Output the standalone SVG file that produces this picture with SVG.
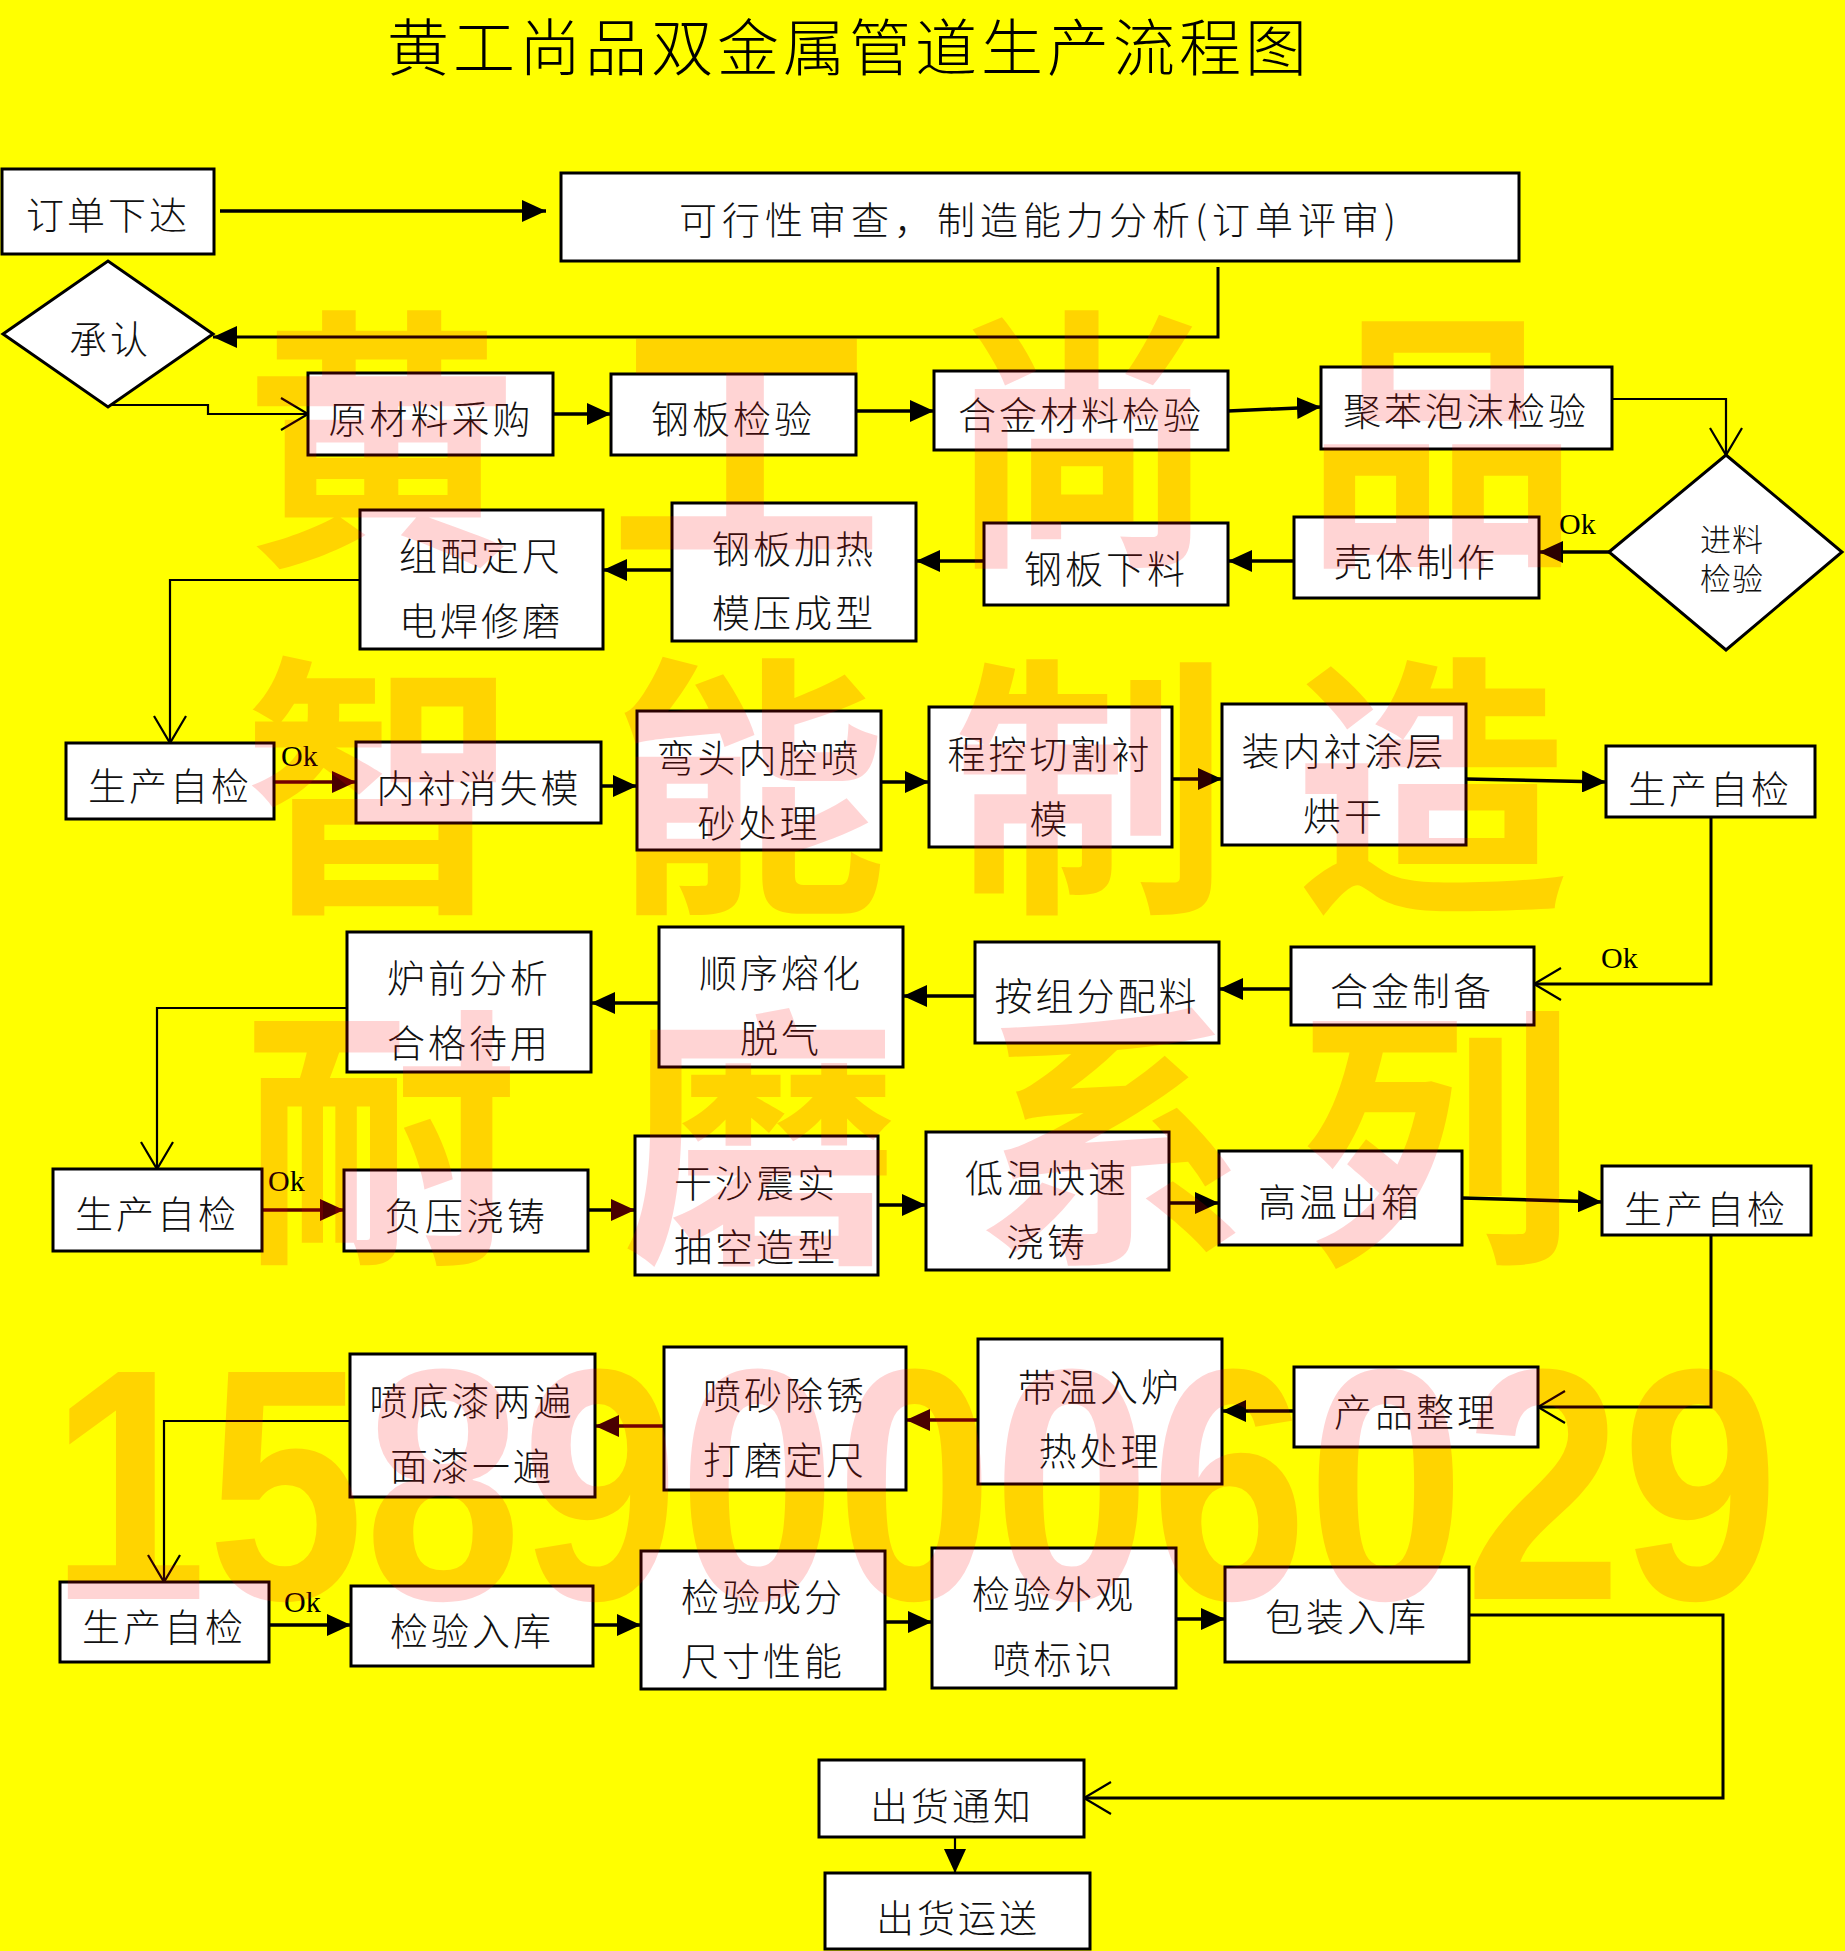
<svg xmlns="http://www.w3.org/2000/svg" width="1845" height="1951" viewBox="0 0 1845 1951">
<style>
.box{fill:#fff;stroke:#000;stroke-width:3}
.t{font-family:"Noto Sans CJK SC","Noto Sans CJK JP",sans-serif;font-weight:300;font-size:38px;letter-spacing:3px;text-anchor:middle;dominant-baseline:central;fill:#111}
.ok{font-family:"Liberation Serif",serif;font-size:30px;fill:#000}
.ln{fill:none;stroke:#000;stroke-width:3.5}
.lr{fill:none;stroke:#5a0000;stroke-width:3.5}
.el{fill:none;stroke:#000;stroke-width:2.2}
.wm{font-family:"Noto Sans CJK SC",sans-serif;font-weight:bold;font-size:275px;text-anchor:middle;dominant-baseline:central;fill:#ff0000;fill-opacity:0.17}
</style>
<defs>
<marker id="tri" markerWidth="24" markerHeight="22" refX="24" refY="11" orient="auto" markerUnits="userSpaceOnUse"><path d="M0,0 L24,11 L0,22 Z" fill="#000"/></marker>
<marker id="triR" markerWidth="24" markerHeight="22" refX="24" refY="11" orient="auto" markerUnits="userSpaceOnUse"><path d="M0,0 L24,11 L0,22 Z" fill="#4a0000"/></marker>
<marker id="vee" markerWidth="32" markerHeight="36" refX="29" refY="18" orient="auto" markerUnits="userSpaceOnUse"><path d="M2,2 L29,18 L2,34" fill="none" stroke="#000" stroke-width="2.2"/></marker>
</defs>
<rect x="0" y="0" width="1845" height="1951" fill="#ffff00"/>
<text x="849" y="44" style="font-family:'Noto Sans CJK SC',sans-serif;font-weight:300;font-size:62px;letter-spacing:4px;text-anchor:middle;dominant-baseline:central;fill:#000">黄工尚品双金属管道生产流程图</text>

<g id="connectors">
<path class="ln" d="M220,211 H546" marker-end="url(#tri)"/>
<path class="ln" d="M1218,267 V337 H213" marker-end="url(#tri)" style="stroke-width:3"/>
<path class="el" d="M108,405 H208 V414 H308" marker-end="url(#vee)"/>
<path class="ln" d="M553,414 H611" marker-end="url(#tri)"/>
<path class="ln" d="M856,411 H934" marker-end="url(#tri)"/>
<path class="ln" d="M1228,411 L1321,407" marker-end="url(#tri)"/>
<path class="el" d="M1612,399 H1726 V455" marker-end="url(#vee)"/>
<path class="ln" d="M1609,552 H1539" marker-end="url(#tri)"/>
<path class="ln" d="M1294,561 H1228" marker-end="url(#tri)"/>
<path class="ln" d="M984,561 H916" marker-end="url(#tri)"/>
<path class="ln" d="M672,570 H603" marker-end="url(#tri)"/>
<path class="el" d="M360,580 H170 V743" marker-end="url(#vee)"/>
<path class="lr" d="M274,782 H356" marker-end="url(#triR)"/>
<path class="ln" d="M601,786 H637" marker-end="url(#tri)"/>
<path class="ln" d="M881,782 H929" marker-end="url(#tri)"/>
<path class="ln" d="M1172,779 H1222" marker-end="url(#tri)"/>
<path class="ln" d="M1466,779 L1606,782" marker-end="url(#tri)"/>
<path class="el" d="M1711,817 V984 H1534" marker-end="url(#vee)" style="stroke-width:3"/>
<path class="ln" d="M1291,989 H1219" marker-end="url(#tri)"/>
<path class="ln" d="M975,996 H903" marker-end="url(#tri)"/>
<path class="ln" d="M659,1003 H591" marker-end="url(#tri)"/>
<path class="el" d="M347,1008 H157 V1169" marker-end="url(#vee)"/>
<path class="lr" d="M262,1210 H344" marker-end="url(#triR)"/>
<path class="ln" d="M588,1210 H635" marker-end="url(#triR)"/>
<path class="ln" d="M878,1205 H926" marker-end="url(#tri)"/>
<path class="ln" d="M1169,1203 H1219" marker-end="url(#tri)"/>
<path class="ln" d="M1462,1198 L1602,1202" marker-end="url(#tri)"/>
<path class="el" d="M1711,1235 V1407 H1538" marker-end="url(#vee)" style="stroke-width:3"/>
<path class="ln" d="M1294,1411 H1222" marker-end="url(#tri)"/>
<path class="lr" d="M978,1420 H906" marker-end="url(#triR)"/>
<path class="lr" d="M664,1426 H595" marker-end="url(#triR)"/>
<path class="el" d="M350,1421 H164 V1582" marker-end="url(#vee)"/>
<path class="ln" d="M269,1625 H351" marker-end="url(#tri)"/>
<path class="ln" d="M593,1625 H641" marker-end="url(#tri)"/>
<path class="ln" d="M885,1622 H932" marker-end="url(#tri)"/>
<path class="ln" d="M1176,1619 H1225" marker-end="url(#tri)"/>
<path class="el" d="M1469,1615 H1723 V1798 H1084" marker-end="url(#vee)" style="stroke-width:3"/>
<path class="el" d="M955,1837 V1873" marker-end="url(#tri)"/>
<text class="ok" x="1559" y="534">Ok</text>
<text class="ok" x="281" y="766">Ok</text>
<text class="ok" x="1601" y="968">Ok</text>
<text class="ok" x="268" y="1191">Ok</text>
<text class="ok" x="284" y="1612">Ok</text>
</g>

<g id="n-order"><rect class="box" x="2" y="169" width="212" height="85"/><text class="t" x="108" y="212">订单下达</text></g>
<g id="n-review"><rect class="box" x="561" y="173" width="958" height="88"/><text class="t" x="1040" y="217" style="letter-spacing:5px">可行性审查，制造能力分析(订单评审)</text></g>
<g id="n-approve"><polygon class="box" points="3,334 108,261 213,334 108,407"/><text class="t" x="110" y="336">承认</text></g>
<g id="n-raw"><rect class="box" x="308" y="373" width="245" height="82"/><text class="t" x="431" y="416">原材料采购</text></g>
<g id="n-steelcheck"><rect class="box" x="611" y="374" width="245" height="81"/><text class="t" x="733" y="416">钢板检验</text></g>
<g id="n-alloycheck"><rect class="box" x="934" y="371" width="294" height="79"/><text class="t" x="1081" y="412">合金材料检验</text></g>
<g id="n-foamcheck"><rect class="box" x="1321" y="367" width="291" height="82"/><text class="t" x="1466" y="408">聚苯泡沫检验</text></g>
<g id="n-incoming"><polygon class="box" points="1609,552 1726,455 1842,552 1726,650"/><text class="t" x="1732" y="537" style="font-size:31px;letter-spacing:1px">进料</text><text class="t" x="1732" y="576" style="font-size:31px;letter-spacing:1px">检验</text></g>
<g id="n-shell"><rect class="box" x="1294" y="517" width="245" height="81"/><text class="t" x="1416" y="559">壳体制作</text></g>
<g id="n-cut"><rect class="box" x="984" y="523" width="244" height="82"/><text class="t" x="1106" y="566">钢板下料</text></g>
<g id="n-press"><rect class="box" x="672" y="503" width="244" height="138"/><text class="t" x="794" y="546">钢板加热</text><text class="t" x="794" y="610">模压成型</text></g>
<g id="n-weld"><rect class="box" x="360" y="510" width="243" height="139"/><text class="t" x="481" y="553">组配定尺</text><text class="t" x="481" y="618">电焊修磨</text></g>
<g id="n-self1"><rect class="box" x="66" y="743" width="208" height="76"/><text class="t" x="170" y="783">生产自检</text></g>
<g id="n-lining"><rect class="box" x="356" y="742" width="245" height="81"/><text class="t" x="479" y="785">内衬消失模</text></g>
<g id="n-elbow"><rect class="box" x="637" y="711" width="244" height="139"/><text class="t" x="759" y="755">弯头内腔喷</text><text class="t" x="759" y="820">砂处理</text></g>
<g id="n-cnc"><rect class="box" x="929" y="707" width="243" height="140"/><text class="t" x="1050" y="751">程控切割衬</text><text class="t" x="1050" y="816">模</text></g>
<g id="n-coat"><rect class="box" x="1222" y="704" width="244" height="141"/><text class="t" x="1344" y="748">装内衬涂层</text><text class="t" x="1344" y="813">烘干</text></g>
<g id="n-self2"><rect class="box" x="1606" y="746" width="209" height="71"/><text class="t" x="1710" y="786">生产自检</text></g>
<g id="n-alloyprep"><rect class="box" x="1291" y="947" width="243" height="78"/><text class="t" x="1412" y="988">合金制备</text></g>
<g id="n-batch"><rect class="box" x="975" y="942" width="244" height="101"/><text class="t" x="1097" y="993">按组分配料</text></g>
<g id="n-melt"><rect class="box" x="659" y="927" width="244" height="140"/><text class="t" x="781" y="970">顺序熔化</text><text class="t" x="781" y="1035">脱气</text></g>
<g id="n-analysis"><rect class="box" x="347" y="932" width="244" height="140"/><text class="t" x="469" y="975">炉前分析</text><text class="t" x="469" y="1040">合格待用</text></g>
<g id="n-self3"><rect class="box" x="53" y="1169" width="209" height="82"/><text class="t" x="157" y="1211">生产自检</text></g>
<g id="n-vacuum"><rect class="box" x="344" y="1170" width="244" height="81"/><text class="t" x="466" y="1213">负压浇铸</text></g>
<g id="n-sand"><rect class="box" x="635" y="1136" width="243" height="139"/><text class="t" x="756" y="1180">干沙震实</text><text class="t" x="756" y="1244">抽空造型</text></g>
<g id="n-lowtemp"><rect class="box" x="926" y="1132" width="243" height="138"/><text class="t" x="1047" y="1175">低温快速</text><text class="t" x="1047" y="1239">浇铸</text></g>
<g id="n-hightemp"><rect class="box" x="1219" y="1151" width="243" height="94"/><text class="t" x="1340" y="1199">高温出箱</text></g>
<g id="n-self4"><rect class="box" x="1602" y="1166" width="209" height="69"/><text class="t" x="1706" y="1206">生产自检</text></g>
<g id="n-finish"><rect class="box" x="1294" y="1367" width="244" height="80"/><text class="t" x="1416" y="1409">产品整理</text></g>
<g id="n-heat"><rect class="box" x="978" y="1339" width="244" height="145"/><text class="t" x="1100" y="1384">带温入炉</text><text class="t" x="1100" y="1448">热处理</text></g>
<g id="n-blast"><rect class="box" x="664" y="1347" width="242" height="143"/><text class="t" x="785" y="1392">喷砂除锈</text><text class="t" x="785" y="1457">打磨定尺</text></g>
<g id="n-paint"><rect class="box" x="350" y="1354" width="245" height="143"/><text class="t" x="472" y="1398">喷底漆两遍</text><text class="t" x="472" y="1463">面漆一遍</text></g>
<g id="n-self5"><rect class="box" x="60" y="1582" width="209" height="80"/><text class="t" x="164" y="1624">生产自检</text></g>
<g id="n-store"><rect class="box" x="351" y="1586" width="242" height="80"/><text class="t" x="472" y="1628">检验入库</text></g>
<g id="n-composition"><rect class="box" x="641" y="1551" width="244" height="138"/><text class="t" x="763" y="1594">检验成分</text><text class="t" x="763" y="1658">尺寸性能</text></g>
<g id="n-appearance"><rect class="box" x="932" y="1548" width="244" height="140"/><text class="t" x="1054" y="1591">检验外观</text><text class="t" x="1054" y="1656">喷标识</text></g>
<g id="n-pack"><rect class="box" x="1225" y="1567" width="244" height="95"/><text class="t" x="1347" y="1614">包装入库</text></g>
<g id="n-notice"><rect class="box" x="819" y="1760" width="265" height="77"/><text class="t" x="952" y="1803">出货通知</text></g>
<g id="n-ship"><rect class="box" x="825" y="1873" width="265" height="76"/><text class="t" x="958" y="1915">出货运送</text></g>

<g id="watermark">
<text class="wm" x="381" y="424">黄</text><text class="wm" x="746" y="424">工</text><text class="wm" x="1082" y="424">尚</text><text class="wm" x="1442" y="424">品</text>
<text class="wm" x="381" y="771">智</text><text class="wm" x="749" y="771">能</text><text class="wm" x="1091" y="771">制</text><text class="wm" x="1431" y="771">造</text>
<text class="wm" x="381" y="1122">耐</text><text class="wm" x="761" y="1122">磨</text><text class="wm" x="1113" y="1122">系</text><text class="wm" x="1437" y="1122">列</text>
<text x="50" y="1599" textLength="1729" lengthAdjust="spacingAndGlyphs" style="font-family:'Liberation Sans',sans-serif;font-weight:bold;font-size:330px;fill:#ff0000;fill-opacity:0.17">15890006029</text>
</g>
</svg>
